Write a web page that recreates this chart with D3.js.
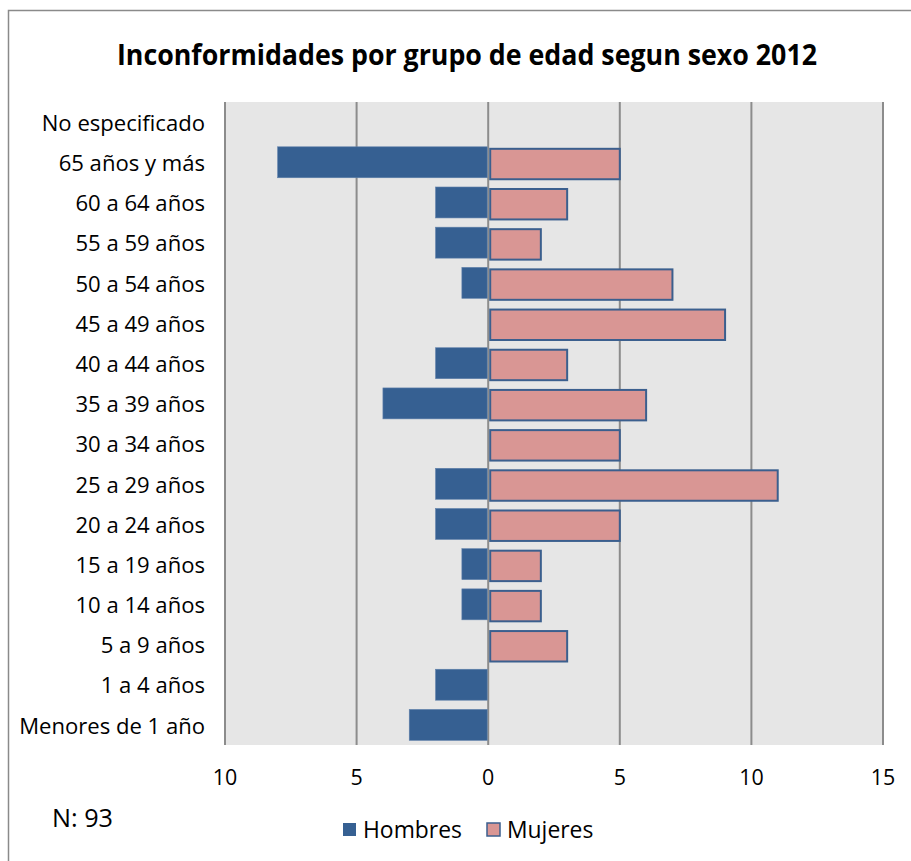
<!DOCTYPE html>
<html><head><meta charset="utf-8">
<script src="https://cdn.jsdelivr.net/npm/d3@7"></script>
<style>body{margin:0;background:#fff} svg{display:block}</style>
</head><body><svg id="c" width="911" height="861"></svg>
<script>
const categories = ["No especificado","65 años y más","60 a 64 años","55 a 59 años","50 a 54 años","45 a 49 años","40 a 44 años","35 a 39 años","30 a 34 años","25 a 29 años","20 a 24 años","15 a 19 años","10 a 14 años","5 a 9 años","1 a 4 años","Menores de 1 año"];
const hombres = [0,8,2,2,1,0,2,4,0,2,2,1,1,0,2,3];
const mujeres = [0,5,3,2,7,9,3,6,5,11,5,2,2,3,0,0];
const tickValues = [-10,-5,0,5,10,15];
const tickLabels = ["10","5","0","5","10","15"];
const seriesNames = ["Hombres","Mujeres"];
const title = "Inconformidades por grupo de edad segun sexo 2012";
const note = "N: 93";

const FONT = "'Open Sans', 'Noto Sans', sans-serif";
const cHombres = "#366092", cMujeres = "#d99694", cMujStroke = "#3b5f8e";
const svg = d3.select("#c").attr("font-family", FONT);
const L = 225, R = 883, T = 102, B = 745;

function fit(sel, target) {
  const w = sel.node().getComputedTextLength();
  const fs = parseFloat(sel.attr("font-size"));
  const nf = fs * target / w;
  sel.attr("font-size", nf);
  return nf;
}

// outer border
svg.append("rect").attr("x", 8.5).attr("y", 10.5).attr("width", 930).attr("height", 900)
  .attr("fill", "#fff").attr("stroke", "#8a8a8a").attr("stroke-width", 1.5);

// title
svg.append("text").attr("x", 467).attr("y", 65).attr("text-anchor", "middle")
  .attr("font-weight", "bold").attr("font-size", 28).attr("fill", "#000")
  .attr("textLength", 700).attr("lengthAdjust", "spacingAndGlyphs").text(title);

const x = d3.scaleLinear().domain([-10, 15]).range([L, R]);
const y = d3.scaleBand().domain(categories).range([T, B]).paddingInner(0.23).paddingOuter(0.115);

// plot background
svg.append("rect").attr("x", L).attr("y", T).attr("width", R - L).attr("height", B - T).attr("fill", "#e6e6e6");

// gridlines
svg.append("g").selectAll("line").data(tickValues).join("line")
  .attr("x1", d => x(d)).attr("x2", d => x(d)).attr("y1", T).attr("y2", B)
  .attr("stroke", "#8c8c8c").attr("stroke-width", 2);

const rows = categories.map((c, i) => ({c, h: hombres[i], m: mujeres[i]}));

// Hombres bars (negative side)
svg.append("g").selectAll("rect").data(rows.filter(d => d.h > 0)).join("rect")
  .attr("x", d => x(-d.h)).attr("width", d => x(0) - x(-d.h) - 1)
  .attr("y", d => y(d.c)).attr("height", y.bandwidth())
  .attr("fill", cHombres).attr("stroke", "#5f80ab").attr("stroke-width", 0.6);

// Mujeres bars
svg.append("g").selectAll("rect").data(rows.filter(d => d.m > 0)).join("rect")
  .attr("x", x(0) + 2).attr("width", d => x(d.m) - x(0) - 2)
  .attr("y", d => y(d.c) + 2).attr("height", y.bandwidth() - 0.5)
  .attr("fill", cMujeres).attr("stroke", cMujStroke).attr("stroke-width", 2);

// category labels
const cl = svg.append("g").selectAll("text").data(categories).join("text")
  .attr("x", 205).attr("y", d => y(d) + y.bandwidth() / 2 + 1).attr("dy", "0.35em")
  .attr("text-anchor", "end").attr("font-size", 18).attr("fill", "#000").text(d => d);
const fsCat = fit(cl.filter(d => d === "Menores de 1 año"), 186);
cl.attr("font-size", fsCat);

// x tick labels
svg.append("g").selectAll("text").data(tickValues).join("text")
  .attr("x", d => x(d)).attr("y", 777).attr("dy", "0.35em").attr("text-anchor", "middle")
  .attr("font-size", fsCat * 0.97).attr("fill", "#000").text((d, i) => tickLabels[i]);

// legend
const lg = svg.append("g");
const legX = [343, 487];
seriesNames.forEach((s, i) => {
  lg.append("rect").attr("x", legX[i]).attr("y", 823).attr("width", 13).attr("height", 13)
    .attr("fill", i === 0 ? cHombres : cMujeres)
    .attr("stroke", i === 0 ? "none" : cMujStroke).attr("stroke-width", 1.5);
  const t = lg.append("text").attr("x", legX[i] + 20).attr("y", 829.5).attr("dy", "0.35em")
    .attr("font-size", 18).attr("fill", "#000").text(s);
  if (i === 0) fit(t, 99);
});
lg.selectAll("text").attr("font-size", lg.select("text").attr("font-size"));

// note
const nt = svg.append("text").attr("x", 52).attr("y", 818).attr("dy", "0.35em")
  .attr("font-size", 20).attr("fill", "#000").text(note);
fit(nt, 61);
</script>
</body></html>
